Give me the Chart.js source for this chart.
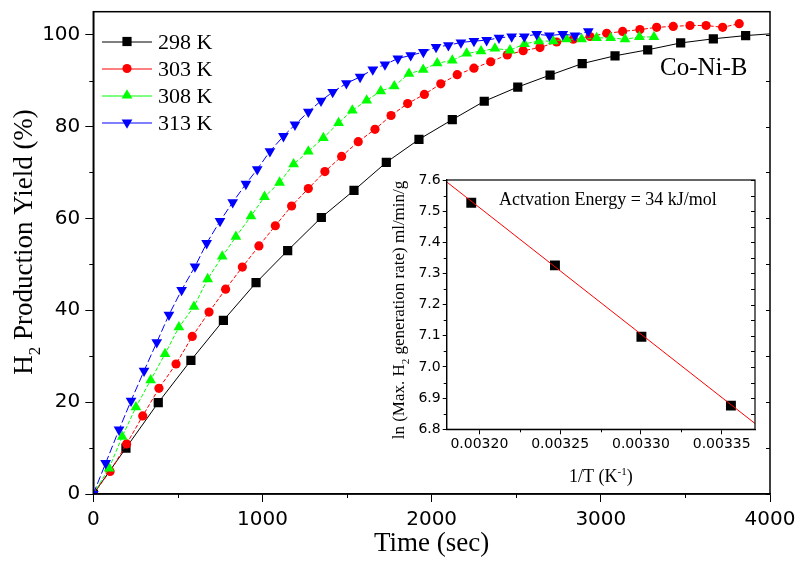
<!DOCTYPE html>
<html>
<head>
<meta charset="utf-8">
<script src="https://cdn.jsdelivr.net/npm/chart.js@4.4.1/dist/chart.umd.min.js"></script>
<style>
  html, body { margin: 0; padding: 0; background: #fff; }
  #wrap { position: relative; width: 795px; height: 561px; }
  #main { position: absolute; left: 0; top: 0; }
  #inset { position: absolute; left: 360px; top: 160px; }
</style>
</head>
<body>
<div id="wrap">
  <canvas id="main" width="795" height="561"></canvas>
  <canvas id="inset" width="410" height="340"></canvas>
</div>
<script>
// values: time (sec) and H2 yield (%)
const t298 = [0, 193, 384, 577, 769, 962, 1149, 1348, 1541, 1732, 1925, 2122, 2311, 2509, 2700, 2890, 3084, 3277, 3472, 3665, 3856, 4048];
const y298 = [0, 10.0, 19.9, 29.1, 37.8, 46.0, 53.0, 60.2, 66.1, 72.2, 77.2, 81.5, 85.5, 88.6, 91.2, 93.7, 95.4, 96.7, 98.2, 99.1, 99.8, 100.3];

const t303 = [0, 99, 197, 292, 388, 489, 585, 684, 782, 881, 979, 1076, 1172, 1271, 1369, 1468, 1566, 1665, 1760, 1858,
  1957, 2054, 2151, 2250, 2349, 2447, 2541, 2640, 2739, 2837, 2936, 3035, 3129, 3231, 3330, 3428, 3527, 3622, 3720, 3818];
const y303 = [0, 4.9, 10.9, 17.0, 23.0, 28.3, 34.3, 39.6, 44.6, 49.4, 54.0, 58.4, 62.7, 66.5, 70.2, 73.5, 76.7, 79.4, 82.4, 85.0,
  87.0, 89.3, 91.3, 92.7, 94.1, 95.6, 96.5, 97.2, 98.4, 99.0, 99.6, 100.3, 100.7, 101.1, 101.6, 101.8, 102.0, 102.0, 101.6, 102.4];

const t308 = [0, 93, 171, 252, 339, 424, 506, 595, 676, 762, 843, 932, 1012, 1101, 1184, 1271, 1360, 1450, 1531, 1616,
  1699, 1779, 1866, 1950, 2033, 2122, 2207, 2292, 2374, 2463, 2549, 2634, 2719, 2798, 2887, 2975, 3058, 3143, 3228, 3314];
const y308 = [0, 5.6, 12.5, 18.9, 24.8, 30.5, 36.3, 40.8, 46.8, 51.7, 56.0, 60.5, 64.7, 67.8, 71.8, 74.6, 77.5, 80.8, 83.5, 85.7,
  87.7, 88.8, 91.5, 92.4, 93.8, 94.4, 95.9, 96.4, 97.0, 96.6, 98.0, 98.6, 98.6, 99.0, 99.0, 99.3, 99.3, 99.0, 99.5, 99.5];

const t313 = [0, 73, 152, 223, 300, 375, 447, 522, 601, 670, 749, 824, 902, 969, 1044, 1124, 1192, 1271, 1346, 1415,
  1496, 1577, 1652, 1724, 1800, 1876, 1951, 2026, 2099, 2173, 2250, 2325, 2398, 2473, 2548, 2621, 2696, 2775, 2847, 2926];
const y313 = [0, 6.7, 14.0, 20.3, 26.8, 33.0, 39.0, 44.4, 49.5, 54.6, 59.4, 63.5, 67.5, 70.7, 74.6, 77.9, 80.4, 83.2, 85.6, 87.5,
  89.4, 90.8, 92.4, 93.5, 94.8, 95.5, 96.2, 97.3, 97.7, 98.3, 98.6, 98.8, 99.3, 99.6, 99.6, 100.1, 99.8, 100.1, 99.8, 100.7];

const seriesLabels = ["298 K", "303 K", "308 K", "313 K"];
const xTicks = [0, 1000, 2000, 3000, 4000];
const xMinor = [500, 1500, 2500, 3500];
const yTicks = [0, 20, 40, 60, 80, 100];
const yMinor = [10, 30, 50, 70, 90];

// inset: Arrhenius plot
const invT = [0.003195, 0.0032468, 0.0033003, 0.0033557];
const lnRate = [7.527, 7.326, 7.097, 6.876];
const fitX = [0.00318, 0.003371];
const fitY = [7.593, 6.817];
const insetXTicks = [0.0032, 0.00325, 0.0033, 0.00335];
const insetXMinor = [0.003225, 0.003275, 0.003325];
const insetYTicks = [6.8, 6.9, 7.0, 7.1, 7.2, 7.3, 7.4, 7.5, 7.6];
const insetYMinor = [6.85, 6.95, 7.05, 7.15, 7.25, 7.35, 7.45, 7.55];

const SANS = '"DejaVu Sans", Arial, sans-serif';
const SERIF = '"Liberation Serif", "Times New Roman", serif';

function pts(xs, ys) {
  return xs.map((v, i) => ({ x: v, y: ys[i] }));
}

function serie(label, xs, ys, color, style, radius, rot, dash, order) {
  return {
    label: label,
    data: pts(xs, ys),
    borderColor: color,
    backgroundColor: color,
    pointBackgroundColor: color,
    pointBorderColor: color,
    pointBorderWidth: 0,
    pointStyle: style,
    pointRadius: radius,
    pointRotation: rot,
    borderWidth: 1,
    borderDash: dash,
    tension: 0,
    order: order
  };
}

// fixed axis size, no extra padding for overhanging labels
function fixSize(size) {
  return s => {
    if (s.isHorizontal()) s.height = size; else s.width = size;
    s.paddingLeft = 0;
    s.paddingRight = 0;
    s.paddingTop = 0;
    s.paddingBottom = 0;
  };
}

// text with sub/superscript pieces, centred on cx
function drawParts(ctx, parts, cx, cy, size) {
  const fontFor = k => (k ? Math.round(size * 0.62) : size) + "px " + SERIF;
  let total = 0;
  const w = parts.map(p => {
    ctx.font = fontFor(p[1]);
    const m = ctx.measureText(p[0]).width;
    total += m;
    return m;
  });
  let x = cx - total / 2;
  ctx.textAlign = "left";
  ctx.textBaseline = "alphabetic";
  parts.forEach((p, i) => {
    ctx.font = fontFor(p[1]);
    let dy = 0;
    if (p[1] === -1) dy = size * 0.28;
    if (p[1] === 1) dy = -size * 0.38;
    ctx.fillText(p[0], x, cy + dy);
    x += w[i];
  });
}

// box, minor ticks and inner ticks on the right side
const frame = {
  id: "frame",
  afterDraw(chart, args, o) {
    const { ctx, chartArea: a, scales: { x, y } } = chart;
    ctx.save();
    ctx.strokeStyle = "#000";
    ctx.lineWidth = o.lw;
    ctx.strokeRect(a.left, a.top, a.right - a.left, a.bottom - a.top);
    ctx.lineWidth = 1;
    ctx.beginPath();
    o.xMinor.forEach(v => {
      const px = Math.round(x.getPixelForValue(v)) + 0.5;
      ctx.moveTo(px, a.bottom);
      ctx.lineTo(px, a.bottom + o.minorLen);
    });
    o.yMinor.forEach(v => {
      const py = Math.round(y.getPixelForValue(v)) + 0.5;
      ctx.moveTo(a.left, py);
      ctx.lineTo(a.left - o.minorLen, py);
    });
    o.right.forEach(v => {
      const py = Math.round(y.getPixelForValue(v)) + 0.5;
      ctx.moveTo(a.right, py);
      ctx.lineTo(a.right - o.inLen, py);
    });
    ctx.stroke();
    ctx.restore();
  }
};

// legend: line with marker in the middle, then label
const lineLegend = {
  id: "lineLegend",
  afterDatasetsDraw(chart) {
    const ctx = chart.ctx;
    ctx.save();
    chart.data.datasets.forEach((ds, i) => {
      const yy = 41.5 + i * 27;
      ctx.strokeStyle = ds.borderColor;
      ctx.lineWidth = 1;
      ctx.beginPath();
      ctx.moveTo(102, yy + 0.5);
      ctx.lineTo(152, yy + 0.5);
      ctx.stroke();
      ctx.fillStyle = ds.backgroundColor;
      Chart.helpers.drawPoint(ctx, { pointStyle: ds.pointStyle, radius: ds.pointRadius, rotation: ds.pointRotation, borderWidth: 0 }, 127, yy);
      ctx.fillStyle = "#000";
      ctx.font = "22px " + SERIF;
      ctx.textAlign = "left";
      ctx.textBaseline = "alphabetic";
      ctx.fillText(ds.label, 158, yy + 7.5);
    });
    ctx.restore();
  }
};

const mainText = {
  id: "mainText",
  afterDraw(chart) {
    const ctx = chart.ctx;
    const a = chart.chartArea;
    ctx.save();
    ctx.fillStyle = "#000";
    ctx.font = "25px " + SERIF;
    ctx.textAlign = "left";
    ctx.textBaseline = "alphabetic";
    ctx.fillText("Co-Ni-B", 660, 75);
    drawParts(ctx, [["Time (sec)", 0]], (a.left + a.right) / 2, 551, 27);
    ctx.translate(32, 242);
    ctx.rotate(-Math.PI / 2);
    drawParts(ctx, [["H", 0], ["2", -1], [" Production Yield (%)", 0]], 0, 0, 27);
    ctx.restore();
  }
};

const insetText = {
  id: "insetText",
  afterDraw(chart) {
    const ctx = chart.ctx;
    const a = chart.chartArea;
    ctx.save();
    ctx.fillStyle = "#000";
    ctx.font = "18px " + SERIF;
    ctx.textAlign = "left";
    ctx.textBaseline = "alphabetic";
    ctx.fillText("Actvation Energy = 34 kJ/mol", 139, 45);
    drawParts(ctx, [["1/T (K", 0], ["-1", 1], [")", 0]], (a.left + a.right) / 2, 321.5, 18);
    ctx.translate(44, 150);
    ctx.rotate(-Math.PI / 2);
    drawParts(ctx, [["ln (Max. H", 0], ["2", -1], [" generation rate) ml/min/g", 0]], 0, 0, 17);
    ctx.restore();
  }
};

new Chart(document.getElementById("main"), {
  type: "line",
  data: {
    datasets: [
      serie(seriesLabels[0], t298, y298, "#000000", "rect", 6.5, 0, [], 3),
      serie(seriesLabels[1], t303, y303, "#ff0000", "circle", 4.6, 0, [4, 2], 2),
      serie(seriesLabels[2], t308, y308, "#00ff00", "triangle", 6.2, 0, [4, 2], 1),
      serie(seriesLabels[3], t313, y313, "#0000ff", "triangle", 6.2, 180, [8, 3], 0)
    ]
  },
  options: {
    responsive: false,
    animation: false,
    layout: { padding: { top: 11.7, right: 25, left: 0, bottom: 0 } },
    plugins: {
      legend: { display: false },
      tooltip: { enabled: false },
      frame: { lw: 1.5, xMinor: xMinor, yMinor: yMinor, right: yTicks.concat(yMinor), minorLen: 4, inLen: 4 }
    },
    scales: {
      x: {
        type: "linear",
        min: 0,
        max: 4000,
        afterBuildTicks: s => { s.ticks = xTicks.map(v => ({ value: v })); },
        afterFit: fixSize(67),
        grid: { drawOnChartArea: false, drawTicks: true, tickLength: 8, color: "#000", lineWidth: 1 },
        border: { display: true, color: "#000", width: 1.5 },
        ticks: { color: "#000", font: { family: SANS, size: 20 }, padding: 6, maxRotation: 0, callback: v => String(v) }
      },
      y: {
        type: "linear",
        min: 0,
        max: 105,
        afterBuildTicks: s => { s.ticks = yTicks.map(v => ({ value: v })); },
        afterFit: fixSize(93.3),
        grid: { drawOnChartArea: false, drawTicks: true, tickLength: 8, color: "#000", lineWidth: 1 },
        border: { display: true, color: "#000", width: 1.5 },
        ticks: { color: "#000", font: { family: SANS, size: 20 }, padding: 5, callback: v => String(v) }
      }
    }
  },
  plugins: [frame, lineLegend, mainText]
});

new Chart(document.getElementById("inset"), {
  type: "line",
  data: {
    datasets: [
      {
        label: "fit",
        data: pts(fitX, fitY),
        borderColor: "#ff0000",
        borderWidth: 1,
        pointRadius: 0,
        tension: 0,
        order: 0
      },
      {
        label: "ln rate",
        data: pts(invT, lnRate),
        showLine: false,
        pointStyle: "rect",
        pointRadius: 7,
        pointBackgroundColor: "#000",
        pointBorderColor: "#000",
        pointBorderWidth: 0,
        order: 1
      }
    ]
  },
  options: {
    responsive: false,
    animation: false,
    layout: { padding: { top: 20, right: 15, left: 0, bottom: 0 } },
    plugins: {
      legend: { display: false },
      tooltip: { enabled: false },
      frame: { lw: 1.2, xMinor: insetXMinor, yMinor: insetYMinor, right: insetYTicks.concat(insetYMinor), minorLen: 3, inLen: 4 }
    },
    scales: {
      x: {
        type: "linear",
        min: 0.0031798,
        max: 0.0033706,
        afterBuildTicks: s => { s.ticks = insetXTicks.map(v => ({ value: v })); },
        afterFit: fixSize(70.7),
        grid: { drawOnChartArea: false, drawTicks: true, tickLength: 5, color: "#000", lineWidth: 1 },
        border: { display: true, color: "#000", width: 1.2 },
        ticks: { color: "#000", font: { family: SANS, size: 14 }, padding: 2, maxRotation: 0, callback: v => v.toFixed(5) }
      },
      y: {
        type: "linear",
        min: 6.8,
        max: 7.6,
        afterBuildTicks: s => { s.ticks = insetYTicks.map(v => ({ value: v })); },
        afterFit: fixSize(86.7),
        grid: { drawOnChartArea: false, drawTicks: true, tickLength: 4, color: "#000", lineWidth: 1 },
        border: { display: true, color: "#000", width: 1.2 },
        ticks: { color: "#000", font: { family: SANS, size: 14 }, padding: 2, callback: v => v.toFixed(1) }
      }
    }
  },
  plugins: [frame, insetText]
});
</script>
</body>
</html>
